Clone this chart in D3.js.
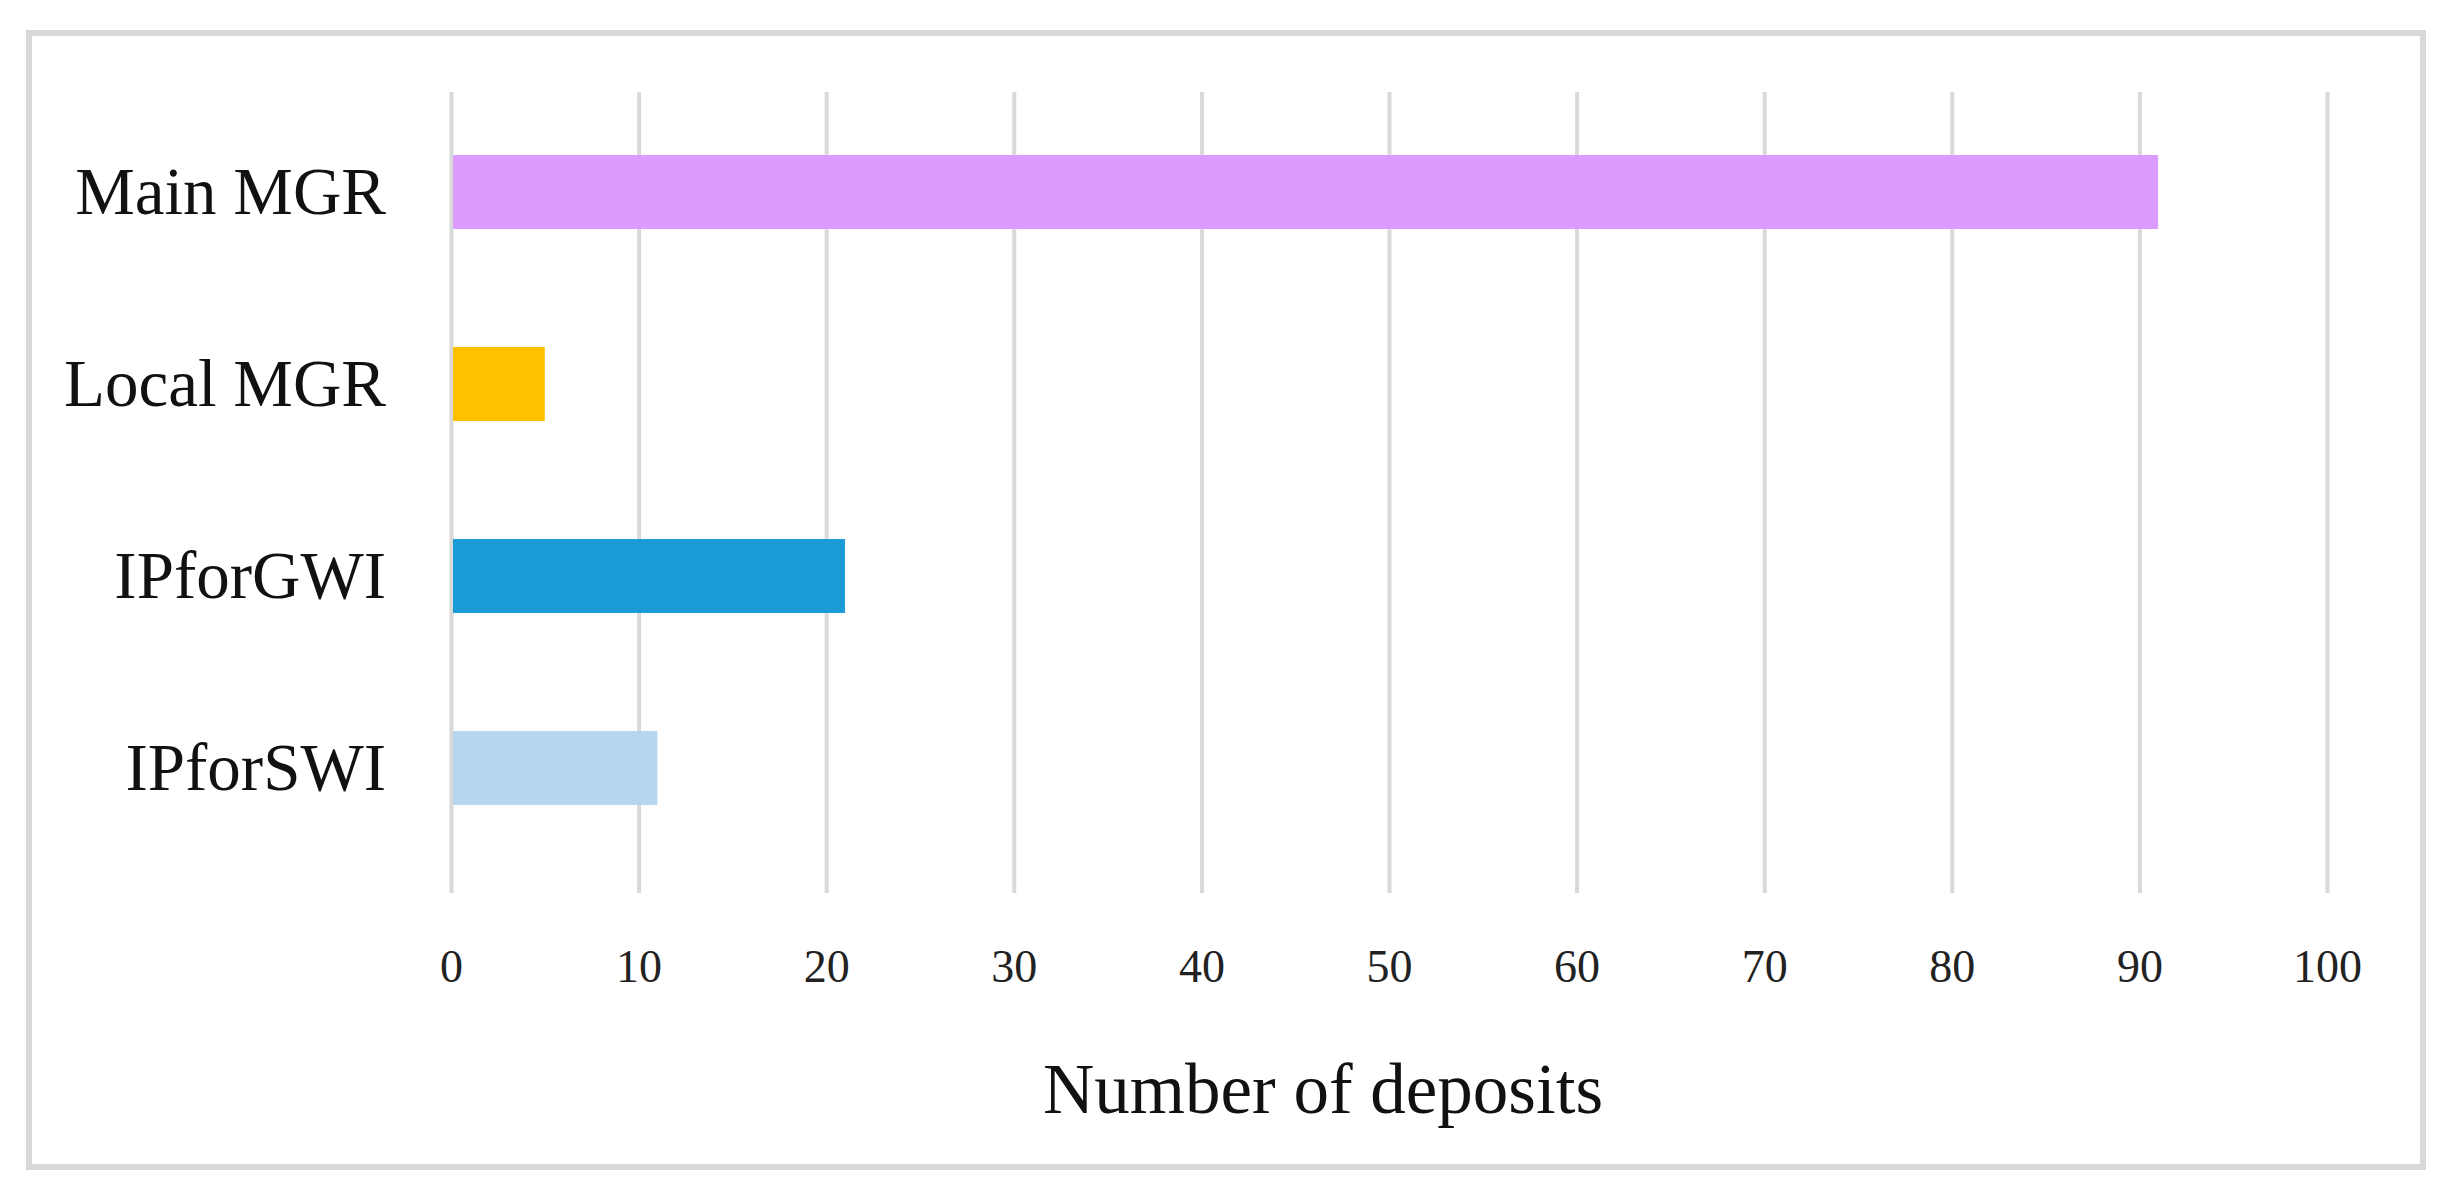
<!DOCTYPE html>
<html>
<head>
<meta charset="utf-8">
<script src="https://cdn.jsdelivr.net/npm/d3@7"></script>
<style>
  html, body { margin: 0; padding: 0; background: #ffffff; }
  svg { display: block; }
</style>
</head>
<body>
<script>
const categories = ["Main MGR", "Local MGR", "IPforGWI", "IPforSWI"];
const values = [91, 5, 21, 11];
const barColors = ["#dc9cfe", "#ffc000", "#199bd8", "#b4d7ee"];
const tickValues = [0, 10, 20, 30, 40, 50, 60, 70, 80, 90, 100];
const xTitle = "Number of deposits";

const W = 2456, H = 1200;
const svg = d3.select("body").append("svg").attr("width", W).attr("height", H);

// outer frame
svg.append("rect")
  .attr("x", 29).attr("y", 33).attr("width", 2394).attr("height", 1134)
  .attr("fill", "#ffffff").attr("stroke", "#d9d9d9").attr("stroke-width", 6);

const x = d3.scaleLinear().domain([0, 100]).range([451, 2327]);
const y = d3.scaleBand().domain(categories).range([96, 864]).paddingInner(0.615).paddingOuter(0.3075);

const gridTop = 92, gridBottom = 893;
const font = "'Liberation Serif', 'Times New Roman', serif";

// x axis with gridlines
const xAxis = d3.axisBottom(x)
  .tickValues(tickValues)
  .tickSizeInner(-(gridBottom - gridTop))
  .tickSizeOuter(0)
  .tickPadding(56)
  .tickFormat(d3.format("d"));
const gx = svg.append("g").attr("transform", `translate(0,${gridBottom})`).call(xAxis);
gx.select(".domain").remove();
gx.selectAll(".tick line").attr("stroke", "#d9d9d9").attr("stroke-width", 4);
gx.selectAll(".tick text")
  .attr("font-family", font).attr("font-size", 46).attr("fill", "#222");

// bars
svg.append("g").selectAll("rect").data(categories).join("rect")
  .attr("x", x(0) + 2)
  .attr("y", d => y(d))
  .attr("width", (d, i) => x(values[i]) - x(0) - 2)
  .attr("height", y.bandwidth())
  .attr("fill", (d, i) => barColors[i]);

// y axis labels
const yAxis = d3.axisLeft(y).tickSize(0).tickPadding(65);
const gy = svg.append("g").attr("transform", `translate(${x(0)},0)`).call(yAxis);
gy.select(".domain").remove();
gy.selectAll(".tick text")
  .attr("font-family", font).attr("font-size", 67).attr("fill", "#111")
  .attr("dy", "0.33em");

// x title
svg.append("text")
  .attr("x", 1323).attr("y", 1113)
  .attr("text-anchor", "middle")
  .attr("font-family", font).attr("font-size", 71).attr("fill", "#111")
  .text(xTitle);
</script>
</body>
</html>
